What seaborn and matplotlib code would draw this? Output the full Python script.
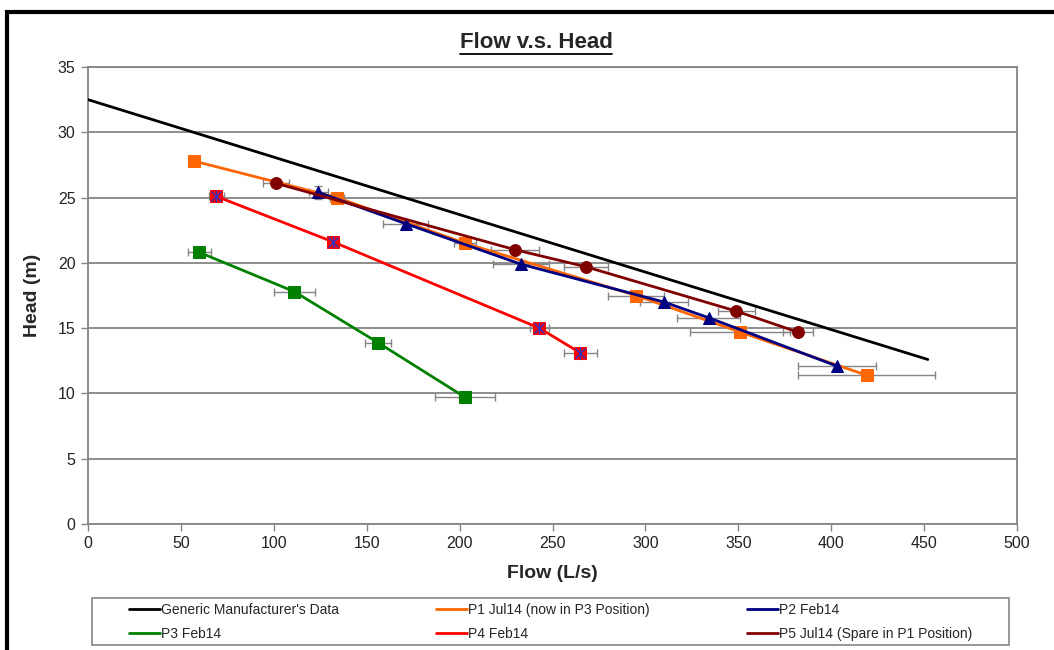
import numpy as np
import pandas as pd
import seaborn as sns
import matplotlib
matplotlib.use("Agg")
import matplotlib.pyplot as plt
from matplotlib.lines import Line2D
from matplotlib.patches import Rectangle

# ---------------- data ----------------
gen_flow = [0, 452]
gen_head = [32.5, 12.6]

p1_flow = [57, 134, 203, 295, 351, 419]
p1_head = [27.8, 25.0, 21.5, 17.5, 14.7, 11.4]
p1_xerr = [1.5, 4, 6, 15, 27, 37]
p1_yerr = [0, 0, 0, 0, 0, 0]

p2_flow = [124, 171, 233, 310, 334, 403]
p2_head = [25.4, 23.0, 19.9, 17.0, 15.8, 12.1]
p2_xerr = [5, 12, 15, 13, 17, 21]
p2_yerr = [0.5, 0, 0, 0, 0, 0]

p3_flow = [60, 111, 156, 203]
p3_head = [20.8, 17.8, 13.9, 9.7]
p3_xerr = [6, 11, 7, 16]
p3_yerr = [0, 0, 0, 0]

p4_flow = [69, 132, 243, 265]
p4_head = [25.1, 21.6, 15.0, 13.1]
p4_xerr = [4, 3, 5, 9]
p4_yerr = [0.4, 0.3, 0.4, 0.4]

p5_flow = [101, 230, 268, 349, 382]
p5_head = [26.1, 21.0, 19.7, 16.3, 14.7]
p5_xerr = [7, 13, 12, 10, 8]
p5_yerr = [0, 0, 0, 0, 0]

labels = ["Generic Manufacturer's Data", "P1 Jul14 (now in P3 Position)", "P2 Feb14",
          "P3 Feb14", "P4 Feb14", "P5 Jul14 (Spare in P1 Position)"]
colors = ["#000000", "#FF6600", "#000080", "#008000", "#FF0000", "#800000"]

# ---------------- style ----------------
sns.set_theme(style="white")
plt.rcParams["font.family"] = ["Liberation Sans", "DejaVu Sans"]

fig = plt.figure(figsize=(10.54, 6.5), dpi=100)
ax = fig.add_axes([88 / 1054, 1 - 524 / 650, (1017 - 88) / 1054, (524 - 67) / 650])

gray = "#858585"

series = [
    (p1_flow, p1_head, p1_xerr, p1_yerr, colors[1], "s", 8.5, labels[1]),
    (p2_flow, p2_head, p2_xerr, p2_yerr, colors[2], "^", 9, labels[2]),
    (p3_flow, p3_head, p3_xerr, p3_yerr, colors[3], "s", 8.5, labels[3]),
    (p4_flow, p4_head, p4_xerr, p4_yerr, colors[4], "s", 8.5, labels[4]),
    (p5_flow, p5_head, p5_xerr, p5_yerr, colors[5], "o", 8.5, labels[5]),
]

# error bars
for fx, hy, xe, ye, c, m, ms, lab in series:
    ax.errorbar(fx, hy, xerr=xe, yerr=ye, fmt="none", ecolor=gray, elinewidth=1,
                capsize=3, capthick=1, zorder=2)

# generic line
sns.lineplot(x=gen_flow, y=gen_head, ax=ax, color=colors[0], linewidth=2, sort=False,
             estimator=None, zorder=3)

for fx, hy, xe, ye, c, m, ms, lab in series:
    df = pd.DataFrame({"flow": fx, "head": hy})
    sns.lineplot(data=df, x="flow", y="head", ax=ax, color=c, linewidth=2, sort=False,
                 estimator=None, marker=m, markersize=ms, markeredgecolor=c,
                 markerfacecolor=c, zorder=3)

# P4 star overlay (Excel style marker)
ax.plot(p4_flow, p4_head, linestyle="none", marker="x", markersize=7, color="#3030C0",
        markeredgewidth=1.0, zorder=4)
ax.plot(p4_flow, p4_head, linestyle="none", marker="|", markersize=8, color="#3030C0",
        markeredgewidth=1.0, zorder=4)

# axes
ax.set_xlim(0, 500)
ax.set_ylim(0, 35)
ax.set_xticks(np.arange(0, 501, 50))
ax.set_yticks(np.arange(0, 36, 5))
ax.yaxis.grid(True, color=gray, linewidth=1.3)
ax.xaxis.grid(False)
ax.set_axisbelow(True)
for s in ax.spines.values():
    s.set_color(gray)
    s.set_linewidth(1.3)
ax.tick_params(axis="both", direction="out", length=5, width=1, color=gray,
               labelsize=11.5, labelcolor="#222222", pad=4)
ax.tick_params(axis="both", which="both", bottom=True, left=True)
ax.set_xlabel("Flow (L/s)", fontsize=14, fontweight="bold", labelpad=10)
ax.set_ylabel("Head (m)", fontsize=14, fontweight="bold", labelpad=12)

# title with underline
title = fig.text(536 / 1054, 1 - 42 / 650, "Flow v.s. Head", ha="center", va="center",
                 fontsize=16, fontweight="bold")

# legend: frame drawn separately, content placed inside
fig.add_artist(Rectangle((92 / 1054, 1 - 645 / 650), 917 / 1054, 47 / 650,
                         transform=fig.transFigure, facecolor="white", edgecolor=gray,
                         linewidth=1.2, zorder=5))
handles = [Line2D([], [], color=c, linewidth=2) for c in colors]
order = [0, 3, 1, 4, 2, 5]
leg = fig.legend([handles[i] for i in order], [labels[i] for i in order], ncol=3,
                 loc="upper left", bbox_to_anchor=(129 / 1054, 1 - 603 / 650),
                 frameon=False, prop={"size": 10},
                 handlelength=2.2, handletextpad=0.1, borderpad=0, labelspacing=0.7,
                 columnspacing=7.0, borderaxespad=0)
leg.set_zorder(6)

# figure border (left and top)
fig.add_artist(Line2D([6.5 / 1054, 6.5 / 1054], [0, 1 - 10 / 650], color="black",
                      linewidth=3, transform=fig.transFigure, solid_capstyle="butt"))
fig.add_artist(Line2D([5 / 1054, 1], [1 - 11.5 / 650, 1 - 11.5 / 650], color="black",
                      linewidth=3, transform=fig.transFigure, solid_capstyle="butt"))

fig.canvas.draw()
bb = title.get_window_extent()
W, H = fig.bbox.width, fig.bbox.height
uy = (bb.y0 - 1) / H
fig.add_artist(Line2D([bb.x0 / W, bb.x1 / W], [uy, uy], color="black", linewidth=1.3,
                      transform=fig.transFigure))

fig.savefig("out.png", dpi=100)
